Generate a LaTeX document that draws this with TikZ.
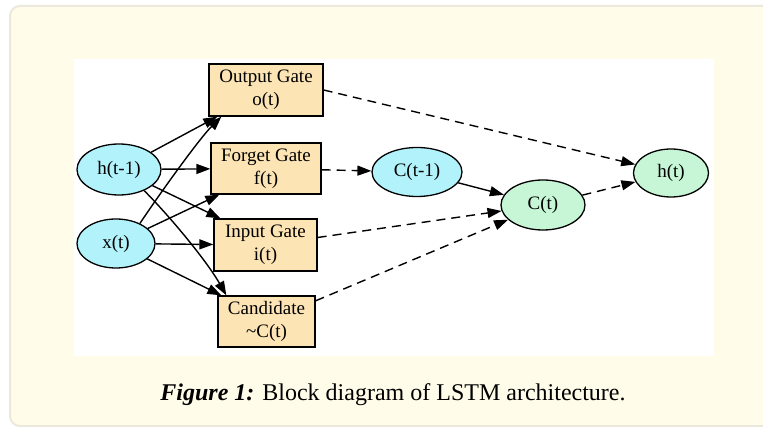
\documentclass[tikz,border=0pt]{standalone}
\usepackage{fontspec}
\setmainfont{Liberation Serif}
\usetikzlibrary{shapes.geometric,arrows.meta}
\definecolor{panelfill}{HTML}{FFFCEA}
\definecolor{panelline}{HTML}{ECE8DC}
\definecolor{boxfill}{HTML}{FCE4B4}
\definecolor{cyanfill}{HTML}{B2F2FB}
\definecolor{greenfill}{HTML}{C6F6D6}
\begin{document}
\begin{tikzpicture}[x=1pt,y=-1pt,
  gate/.style={draw=black,line width=1.3pt,fill=boxfill,rectangle,inner sep=0pt,align=center,font=\fontsize{19}{23}\selectfont},
  ell/.style={draw=black,line width=1.3pt,ellipse,inner sep=0pt,font=\fontsize{19}{23}\selectfont},
  arr/.style={line width=1.4pt,-{Triangle[length=14pt,width=10pt]}},
  darr/.style={arr,dash pattern=on 9pt off 6pt}]
\useasboundingbox (0,0) rectangle (763,427);
\fill[white] (0,0) rectangle (763,427);
\draw[panelline,fill=panelfill,line width=2pt,rounded corners=10pt] (10,6) rectangle (800,426);
\fill[white] (74,59) rectangle (714,356);

\node[gate,minimum width=114pt,minimum height=52pt] (out) at (266,90) {Output Gate\\o(t)};
\node[gate,minimum width=110pt,minimum height=51pt] (forget) at (266,168.5) {Forget Gate\\f(t)};
\node[gate,minimum width=103pt,minimum height=52pt] (input) at (265.5,245) {Input Gate\\i(t)};
\node[gate,minimum width=97pt,minimum height=51pt] (cand) at (266.5,321.5) {Candidate\\\textasciitilde C(t)};

\node[ell,fill=cyanfill,minimum width=84pt,minimum height=51pt] (h1) at (119,169.5) {h(t-1)};
\node[ell,fill=cyanfill,minimum width=78pt,minimum height=49pt] (x) at (116,243.5) {x(t)};
\node[ell,fill=cyanfill,minimum width=90pt,minimum height=49pt] (c1) at (417,172) {C(t-1)};
\node[ell,fill=greenfill,minimum width=84pt,minimum height=50pt] (ct) at (543,205) {C(t)};
\node[ell,fill=greenfill,minimum width=75pt,minimum height=48pt] (ht) at (671,173) {h(t)};

% inputs to gates
\draw[arr] (h1) -- ([xshift=9pt]out.south west);
\draw[arr] (h1) -- (forget);
\draw[arr] (h1) -- ([xshift=7pt]input.north west);
\draw[arr] (h1.-40) .. controls +(25,25) and +(-20,-35) .. ([xshift=9pt]cand.north west);
\draw[arr] (x.40) .. controls +(20,-30) and +(-22,22) .. ([xshift=13pt]out.south west);
\draw[arr] (x) -- ([xshift=9pt]forget.south west);
\draw[arr] (x) -- (input);
\draw[arr] (x) -- ([xshift=4pt]cand.north west);

% gates onward
\draw[darr] (out.east) -- (ht);
\draw[darr] (forget) -- (c1);
\draw[arr] (c1) -- (ct);
\draw[darr] (input) -- (ct);
\draw[darr] (cand) -- (ct);
\draw[darr] (ct) -- (ht);

\node[font=\fontsize{24}{28}\selectfont,anchor=base,inner sep=0pt] (cap) at (393,400) {\textbf{\textit{Figure 1:}} Block diagram of LSTM architecture.};
\end{tikzpicture}
\end{document}
